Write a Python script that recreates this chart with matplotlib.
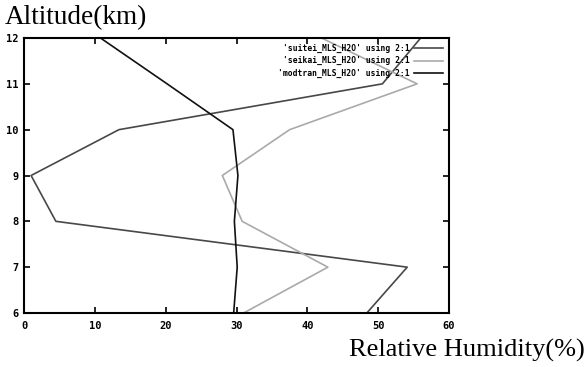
import matplotlib
matplotlib.use("Agg")
import matplotlib.pyplot as plt

altitude = [6, 7, 8, 9, 10, 11, 12]
suitei = [48.4, 54.1, 4.5, 1.0, 13.4, 50.6, 56.0]
seikai = [31.0, 42.9, 30.8, 28.0, 37.5, 55.5, 42.0]
modtran = [29.6, 30.1, 29.7, 30.2, 29.5, 20.2, 10.8]

labels = ["'suitei_MLS_H2O' using 2:1",
          "'seikai_MLS_H2O' using 2:1",
          "'modtran_MLS_H2O' using 2:1"]
colors = ["#484848", "#aaaaaa", "#111111"]

xticks = [0, 10, 20, 30, 40, 50, 60]
yticks = [6, 7, 8, 9, 10, 11, 12]

fig = plt.figure(figsize=(5.87, 3.67), dpi=100)
ax = fig.add_axes([24/587, 1-313/367, (449-24)/587, (313-38)/367])

for vals, lab, col in zip([suitei, seikai, modtran], labels, colors):
    ax.plot(vals, altitude, color=col, lw=1.2, label=lab)

ax.set_xlim(0, 60)
ax.set_ylim(6, 12)
ax.set_xticks(xticks)
ax.set_yticks(yticks)
ax.tick_params(direction='in', top=True, right=True, length=4, width=1.2,
               labelsize=7.5)
ax.tick_params(axis='x', pad=6)
ax.tick_params(axis='y', pad=4)
for lbl in ax.get_xticklabels() + ax.get_yticklabels():
    lbl.set_fontweight('bold')
    lbl.set_family('DejaVu Sans Mono')
for sp in ax.spines.values():
    sp.set_linewidth(1.5)

leg = ax.legend(loc='upper right', frameon=False, markerfirst=False,
                prop={'family': 'DejaVu Sans Mono', 'size': 5.8, 'weight': 'bold'},
                handlelength=3.6, handletextpad=0.6, labelspacing=0.45,
                borderaxespad=0.3)
for t in leg.get_texts():
    t.set_ha('right')

fig.text(5/587, 1-18/367, "Altitude(km)", family='Liberation Serif',
         fontsize=19.6, ha='left', va='center')
fig.text(585/587, 1-350/367, "Relative Humidity(%)", family='Liberation Serif',
         fontsize=19, ha='right', va='center')

fig.savefig("out.png", dpi=100)
